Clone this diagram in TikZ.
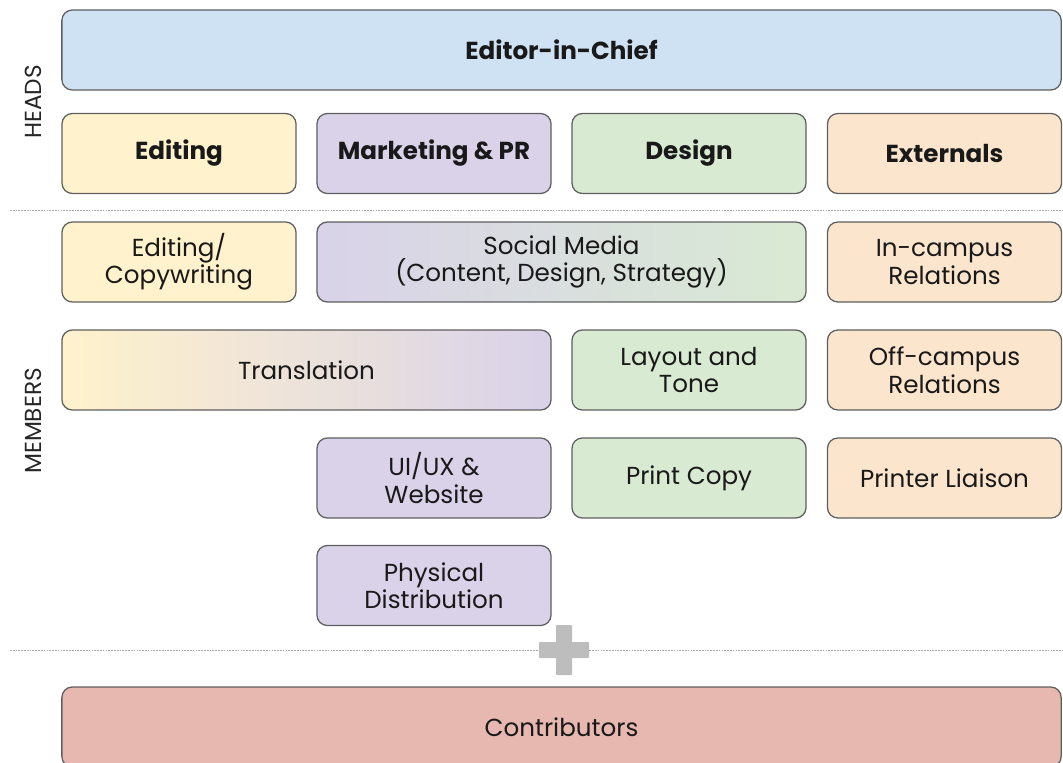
\documentclass[tikz,border=0pt]{standalone}
\usepackage{fontspec}
\setmainfont{Poppins}
\usetikzlibrary{positioning}

\definecolor{chiefblue}{HTML}{CFE2F3}
\definecolor{edityellow}{HTML}{FFF2CC}
\definecolor{mktpurple}{HTML}{D9D2E9}
\definecolor{designgreen}{HTML}{D9EAD3}
\definecolor{extorange}{HTML}{FCE5CD}
\definecolor{contribred}{HTML}{E6B8AF}
\definecolor{boxline}{HTML}{5F5F5F}
\definecolor{sepgray}{HTML}{A8A8A8}
\definecolor{plusgray}{HTML}{BDBDBD}

\tikzset{
  unit/.style = {rectangle, draw=boxline, line width=0.9pt, rounded corners=2.6mm,
                 minimum width=5.85cm, minimum height=2cm, inner sep=0pt,
                 align=center, text=black!90, font=\fontsize{17.5}{19.5}\selectfont},
  head/.style = {unit, font=\fontsize{17.5}{19.5}\selectfont\bfseries},
  twowide/.style = {minimum width=12.225cm},
  fullwide/.style = {minimum width=24.975cm},
  side/.style = {rotate=90, text=black!85, font=\fontsize{16.5}{19}\selectfont},
  sepline/.style = {sepgray, line width=0.6pt, dash pattern=on 1.2pt off 0.8pt}
}

\begin{document}
\begin{tikzpicture}[x=0.025cm, y=-0.025cm]
\useasboundingbox (0,0) rectangle (1063,762);

% heads
\node[head, fullwide, fill=chiefblue] (chief) at (561.5,50) {Editor-in-Chief};
\node[head, fill=edityellow]  (editing)   at (179,153.5)   {Editing};
\node[head, fill=mktpurple]   (marketing) at (434,153.5)   {Marketing \& PR};
\node[head, fill=designgreen] (design)    at (689,153.5)   {Design};
\node[head, fill=extorange]   (externals) at (944.5,153.5) {Externals};

\draw[sepline] (10,210) -- (1063,210);

% members
\node[unit, fill=edityellow] (copy) at (179,262) {Editing/\\Copywriting};
\node[unit, twowide, left color=mktpurple, right color=designgreen] (social) at (561.5,262)
  {Social Media\\(Content, Design, Strategy)};
\node[unit, fill=extorange] (incampus) at (944.5,262) {In-campus\\Relations};

\node[unit, twowide, left color=edityellow, right color=mktpurple] (translation) at (306.5,370) {Translation};
\node[unit, fill=designgreen] (layout)    at (689,370)   {Layout and\\Tone};
\node[unit, fill=extorange]   (offcampus) at (944.5,370) {Off-campus\\Relations};

\node[unit, fill=mktpurple]   (uiux)    at (434,478)   {UI/UX \&\\Website};
\node[unit, fill=designgreen] (print)   at (689,478)   {Print Copy};
\node[unit, fill=extorange]   (liaison) at (944.5,478) {Printer Liaison};

\node[unit, fill=mktpurple] (distrib) at (434,585.5) {Physical\\Distribution};

\node[side] (heads)   at (33,102) {HEADS};
\node[side] (members) at (33,421) {MEMBERS};

\draw[sepline] (10,650) -- (1063,650);

% plus sign
\fill[plusgray, rounded corners=0.6pt] (556,625) rectangle (572,675);
\fill[plusgray, rounded corners=0.6pt] (539,642) rectangle (589,658);

% contributors
\node[unit, fullwide, fill=contribred] (contrib) at (561.5,727) {Contributors};

\end{tikzpicture}
\end{document}
